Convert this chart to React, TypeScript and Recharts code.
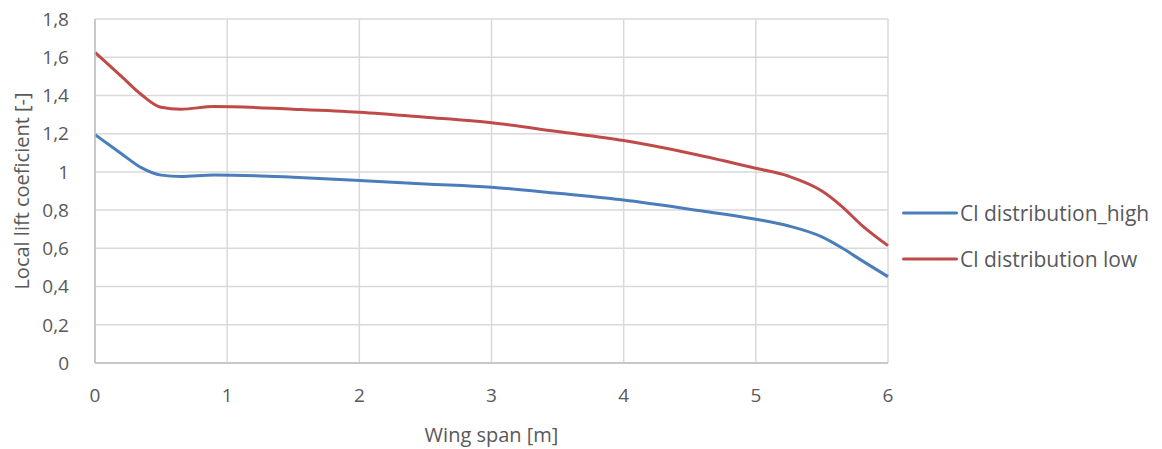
import { LineChart, Line, XAxis, YAxis, CartesianGrid } from "recharts";

const span = [0, 0.2, 0.35, 0.5, 0.65, 0.9, 1.5, 2, 2.5, 3, 3.5, 4, 4.5, 5, 5.25, 5.5, 5.65, 5.8, 6];
const clHigh = [1.195, 1.095, 1.022, 0.983, 0.976, 0.984, 0.972, 0.955, 0.937, 0.92, 0.888, 0.853, 0.805, 0.752, 0.717, 0.66, 0.603, 0.537, 0.452];
const clLow = [1.625, 1.5, 1.405, 1.338, 1.328, 1.342, 1.328, 1.312, 1.286, 1.257, 1.211, 1.164, 1.098, 1.019, 0.977, 0.9, 0.82, 0.722, 0.614];
const xTicks = [0, 1, 2, 3, 4, 5, 6];
const yTicks = [0, 0.2, 0.4, 0.6, 0.8, 1, 1.2, 1.4, 1.6, 1.8];

const series = [
  { key: "high", name: "Cl distribution_high", color: "#4A7EBB" },
  { key: "low", name: "Cl distribution low", color: "#BE4B48" },
];

const data = span.map((x, i) => ({ x, high: clHigh[i], low: clLow[i] }));

const font = "'Open Sans', sans-serif";
const textColor = "#595959";

function LegendBox() {
  return (
    <div style={{ position: "absolute", left: 902, top: 190, fontFamily: font, fontSize: 21, color: textColor }}>
      {series.map((s) => (
        <div key={s.key} style={{ display: "flex", alignItems: "center", height: 46 }}>
          <svg width={56} height={6} style={{ marginRight: 2 }}>
            <line x1={1.5} y1={3} x2={54.5} y2={3} stroke={s.color} strokeWidth={3} strokeLinecap="round" />
          </svg>
          <span>{s.name}</span>
        </div>
      ))}
    </div>
  );
}

export default function App() {
  return (
    <div style={{ position: "absolute", left: 0, top: 0, width: 1162, height: 449, background: "#fff" }}>
      <LineChart width={1162} height={449} data={data} margin={{ top: 19, right: 274, bottom: 0, left: 0 }}>
        <CartesianGrid stroke="#d9d9d9" strokeWidth={1.5} />
        <XAxis
          dataKey="x"
          type="number"
          domain={[0, 6]}
          ticks={xTicks}
          height={86}
          tickLine={false}
          axisLine={{ stroke: "#bfbfbf", strokeWidth: 1.5 }}
          tickMargin={20}
          tick={{ fontFamily: font, fontSize: 19, fill: textColor }}
          label={{ value: "Wing span [m]", position: "insideBottom", offset: 7, style: { fontFamily: font, fontSize: 20, fill: textColor } }}
        />
        <YAxis
          type="number"
          domain={[0, 1.8]}
          ticks={yTicks}
          width={95}
          tickLine={false}
          axisLine={{ stroke: "#bfbfbf", strokeWidth: 1.5 }}
          tickMargin={20}
          tickFormatter={(v: number) => String(v).replace(".", ",")}
          tick={{ fontFamily: font, fontSize: 19, fill: textColor }}
          label={{ value: "Local lift coeficient [-]", angle: -90, position: "insideLeft", offset: 22, style: { fontFamily: font, fontSize: 20, fill: textColor, textAnchor: "middle" } }}
        />
        {series.map((s) => (
          <Line
            key={s.key}
            type="monotone"
            dataKey={s.key}
            name={s.name}
            stroke={s.color}
            strokeWidth={3}
            dot={false}
            isAnimationActive={false}
          />
        ))}
      </LineChart>
      <LegendBox />
    </div>
  );
}
